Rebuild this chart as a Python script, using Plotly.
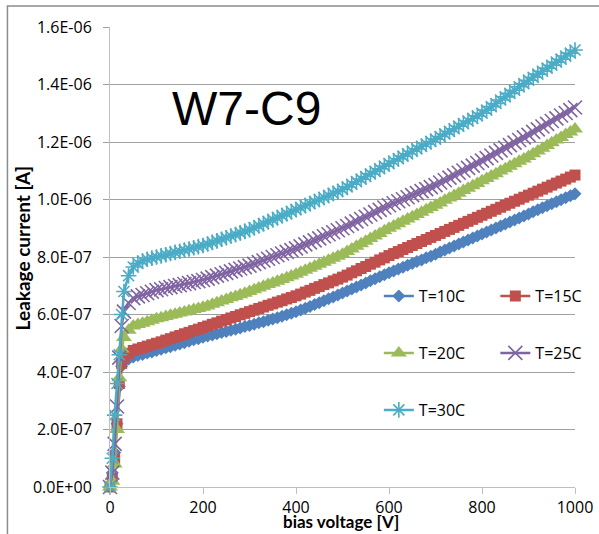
import plotly.graph_objects as go

# ---- data (current in units of 1e-7 A) ----
v_low = [0, 5, 10, 15, 20, 25, 30, 40]
v_main = list(range(50, 1001, 10))
voltage = v_low + v_main

t10_low = [0, 0.5, 1.2, 2.2, 3.5, 4.2, 4.35, 4.45]
t10_main = [4.52, 4.57, 4.61, 4.66, 4.70, 4.75,
            4.79, 4.84, 4.88, 4.93, 4.97, 5.02, 5.07, 5.12, 5.16, 5.21,
            5.25, 5.29, 5.33, 5.37, 5.41, 5.45, 5.49, 5.53, 5.58, 5.62,
            5.66, 5.71, 5.75, 5.80, 5.84, 5.89, 5.94, 5.99, 6.04, 6.10,
            6.16, 6.22, 6.28, 6.35, 6.41, 6.48, 6.55, 6.61, 6.68, 6.75,
            6.82, 6.89, 6.96, 7.03, 7.10, 7.17, 7.24, 7.31, 7.38, 7.45,
            7.51, 7.58, 7.64, 7.71, 7.77, 7.84, 7.90, 7.97, 8.03, 8.10,
            8.17, 8.24, 8.31, 8.38, 8.45, 8.52, 8.59, 8.66, 8.73, 8.80,
            8.87, 8.94, 9.01, 9.08, 9.15, 9.22, 9.29, 9.36, 9.43, 9.50,
            9.57, 9.64, 9.71, 9.78, 9.85, 9.92, 9.99, 10.06, 10.13, 10.20]

t15_low = [0, 0.3, 1.0, 2.2, 3.6, 4.3, 4.5, 4.65]
t15_main = [4.75, 4.80, 4.85, 4.90, 4.95, 5.00,
            5.05, 5.11, 5.16, 5.22, 5.27, 5.33, 5.38, 5.44, 5.49, 5.55,
            5.60, 5.66, 5.71, 5.77, 5.82, 5.88, 5.93, 5.99, 6.04, 6.10,
            6.15, 6.21, 6.26, 6.32, 6.37, 6.43, 6.48, 6.54, 6.59, 6.65,
            6.71, 6.78, 6.84, 6.91, 6.97, 7.04, 7.10, 7.17, 7.23, 7.30,
            7.37, 7.45, 7.52, 7.60, 7.67, 7.75, 7.82, 7.90, 7.97, 8.05,
            8.12, 8.19, 8.26, 8.33, 8.40, 8.47, 8.54, 8.61, 8.68, 8.75,
            8.82, 8.89, 8.96, 9.03, 9.10, 9.17, 9.24, 9.31, 9.38, 9.45,
            9.52, 9.59, 9.66, 9.73, 9.80, 9.87, 9.94, 10.01, 10.08, 10.15,
            10.22, 10.29, 10.36, 10.43, 10.50, 10.57, 10.64, 10.71, 10.78, 10.85]

t20_low = [0, 0.2, 0.8, 2.0, 3.8, 4.8, 5.2, 5.45]
t20_main = [5.60, 5.65, 5.70, 5.75, 5.80, 5.85,
            5.89, 5.93, 5.97, 6.01, 6.05, 6.09, 6.13, 6.17, 6.21, 6.25,
            6.30, 6.36, 6.41, 6.47, 6.52, 6.58, 6.63, 6.69, 6.74, 6.80,
            6.86, 6.92, 6.98, 7.04, 7.10, 7.16, 7.22, 7.28, 7.34, 7.40,
            7.47, 7.54, 7.61, 7.68, 7.75, 7.82, 7.89, 7.96, 8.03, 8.10,
            8.19, 8.28, 8.37, 8.46, 8.55, 8.64, 8.73, 8.82, 8.91, 9.00,
            9.08, 9.16, 9.24, 9.32, 9.40, 9.48, 9.56, 9.64, 9.72, 9.80,
            9.88, 9.97, 10.05, 10.14, 10.22, 10.31, 10.39, 10.48, 10.56, 10.65,
            10.73, 10.82, 10.90, 10.99, 11.07, 11.16, 11.24, 11.33, 11.41, 11.50,
            11.59, 11.69, 11.78, 11.88, 11.97, 12.07, 12.16, 12.26, 12.35, 12.45]

t25_low = [0, 0.5, 1.5, 2.8, 4.5, 5.6, 6.1, 6.4]
t25_main = [6.57, 6.63, 6.68, 6.74, 6.79, 6.85,
            6.88, 6.92, 6.95, 6.99, 7.02, 7.06, 7.09, 7.13, 7.16, 7.20,
            7.25, 7.30, 7.35, 7.40, 7.45, 7.50, 7.55, 7.60, 7.65, 7.70,
            7.76, 7.82, 7.88, 7.94, 8.00, 8.06, 8.12, 8.18, 8.24, 8.30,
            8.37, 8.44, 8.51, 8.58, 8.65, 8.72, 8.79, 8.86, 8.93, 9.00,
            9.08, 9.16, 9.24, 9.32, 9.40, 9.48, 9.56, 9.64, 9.72, 9.80,
            9.87, 9.94, 10.01, 10.08, 10.15, 10.22, 10.29, 10.36, 10.43, 10.50,
            10.59, 10.67, 10.76, 10.84, 10.93, 11.01, 11.10, 11.18, 11.27, 11.35,
            11.44, 11.53, 11.62, 11.71, 11.80, 11.89, 11.98, 12.07, 12.16, 12.25,
            12.35, 12.44, 12.54, 12.63, 12.73, 12.82, 12.92, 13.01, 13.11, 13.20]

t30_low = [0, 1.0, 2.5, 3.6, 4.6, 6.0, 6.8, 7.35]
t30_main = [7.65, 7.78, 7.86, 7.92, 7.96, 8.00,
            8.04, 8.08, 8.12, 8.16, 8.20, 8.24, 8.28, 8.32, 8.36, 8.40,
            8.45, 8.51, 8.56, 8.62, 8.67, 8.73, 8.78, 8.84, 8.89, 8.95,
            9.02, 9.09, 9.16, 9.23, 9.30, 9.37, 9.44, 9.51, 9.58, 9.65,
            9.72, 9.79, 9.86, 9.93, 10.00, 10.07, 10.14, 10.21, 10.28, 10.35,
            10.44, 10.53, 10.62, 10.71, 10.80, 10.89, 10.98, 11.07, 11.16, 11.25,
            11.34, 11.42, 11.51, 11.59, 11.68, 11.76, 11.85, 11.93, 12.02, 12.10,
            12.19, 12.28, 12.37, 12.46, 12.55, 12.64, 12.73, 12.82, 12.91, 13.00,
            13.11, 13.23, 13.34, 13.46, 13.57, 13.69, 13.80, 13.92, 14.03, 14.15,
            14.25, 14.36, 14.46, 14.57, 14.67, 14.78, 14.88, 14.99, 15.09, 15.20]

series_names = ["T=10C", "T=15C", "T=20C", "T=25C", "T=30C"]
series_values = [t10_low + t10_main, t15_low + t15_main, t20_low + t20_main,
                 t25_low + t25_main, t30_low + t30_main]

y_tick_values = [0, 2e-7, 4e-7, 6e-7, 8e-7, 1e-6, 1.2e-6, 1.4e-6, 1.6e-6]
y_tick_labels = ["0.0E+00", "2.0E-07", "4.0E-07", "6.0E-07", "8.0E-07",
                 "1.0E-06", "1.2E-06", "1.4E-06", "1.6E-06"]
x_tick_values = [0, 200, 400, 600, 800, 1000]

for vals in series_values:
    if len(vals) != len(voltage):
        raise ValueError("length mismatch")

# ---- styles ----
colors = ["#4F81BD", "#C0504D", "#9BBB59", "#8064A2", "#4BACC6"]
symbols = ["diamond", "square", "triangle-up", "x-thin", "asterisk"]
sizes = [10, 11, 14, 14, 13]
line_marker = [False, False, False, True, True]
legend_ids = ["legend", "legend2", "legend3", "legend4", "legend5"]
# legend placement (pixel left edge, pixel row centre) in a 2-column grid
legend_left = [380, 497, 380, 497, 380]
legend_row = [296, 296, 353, 353, 410]

fig = go.Figure()
for name, vals, c, sym, sz, lm, lg in zip(series_names, series_values, colors,
                                           symbols, sizes, line_marker, legend_ids):
    marker = dict(symbol=sym, size=sz, color=c)
    if lm:
        marker["line"] = dict(color=c, width=1.6)
    else:
        marker["line"] = dict(width=0)
    fig.add_trace(go.Scatter(
        x=voltage, y=[v * 1e-7 for v in vals], name=name, mode="lines+markers",
        line=dict(color=c, width=2.5), marker=marker, cliponaxis=False,
        legend=lg))

L, R, T, B = 110, 22, 27, 47
W, H = 599, 534
pw, ph = W - L - R, H - T - B


def px(xp):
    return (xp - L) / pw


def py(yp):
    return (H - B - yp) / ph


tick_font = dict(family="Open Sans", size=16, color="#000000")
legend_font = dict(family="Open Sans", size=16, color="#000000")

legend_layout = {}
for lg, lx, ly in zip(legend_ids, legend_left, legend_row):
    legend_layout[lg] = dict(x=px(lx), y=py(ly), xanchor="left", yanchor="middle",
                             bgcolor="rgba(0,0,0,0)", font=legend_font,
                             itemwidth=30)

fig.update_layout(
    width=W, height=H,
    margin=dict(l=L, r=R, t=T, b=B),
    paper_bgcolor="white", plot_bgcolor="white",
    showlegend=True,
    **legend_layout,
    xaxis=dict(range=[0, 1000], tickvals=x_tick_values, showgrid=False,
               showline=True, linecolor="#BFBFBF", linewidth=1,
               ticks="outside", ticklen=6, tickcolor="#BFBFBF",
               tickfont=tick_font, zeroline=False, ticklabelstandoff=0,
               automargin=False),
    yaxis=dict(range=[0, 1.6e-6], tickvals=y_tick_values, ticktext=y_tick_labels,
               showgrid=True, gridcolor="#A0A0A0", gridwidth=1,
               showline=True, linecolor="#BFBFBF", linewidth=1,
               ticks="outside", ticklen=6, tickcolor="#A0A0A0",
               tickfont=tick_font, zeroline=False, ticklabelstandoff=8,
               automargin=False),
    annotations=[
        dict(text="W7-C9", x=px(247), y=py(109), xref="paper", yref="paper",
             showarrow=False, xanchor="center", yanchor="middle",
             font=dict(family="Liberation Sans", size=48, color="#000000")),
        dict(text="<b>bias voltage [V]</b>", x=px(342), y=py(521), xref="paper",
             yref="paper", showarrow=False, xanchor="center", yanchor="middle",
             font=dict(family="Lato", size=17, color="#000000")),
        dict(text="<b>Leakage current [A]</b>", x=px(22), y=py(248), xref="paper",
             yref="paper", showarrow=False, xanchor="center", yanchor="middle",
             textangle=-90, font=dict(family="Lato", size=19, color="#000000")),
    ],
    shapes=[
        dict(type="rect", xref="paper", yref="paper",
             x0=px(7), x1=px(620), y0=py(560), y1=py(6),
             line=dict(color="#8C8C8C", width=1.5), fillcolor="rgba(0,0,0,0)",
             layer="below"),
    ],
)

fig.write_html("out.html", config={"displayModeBar": False},
               post_script="document.body.style.margin='0px';"
                           "document.body.style.overflow='hidden';")
